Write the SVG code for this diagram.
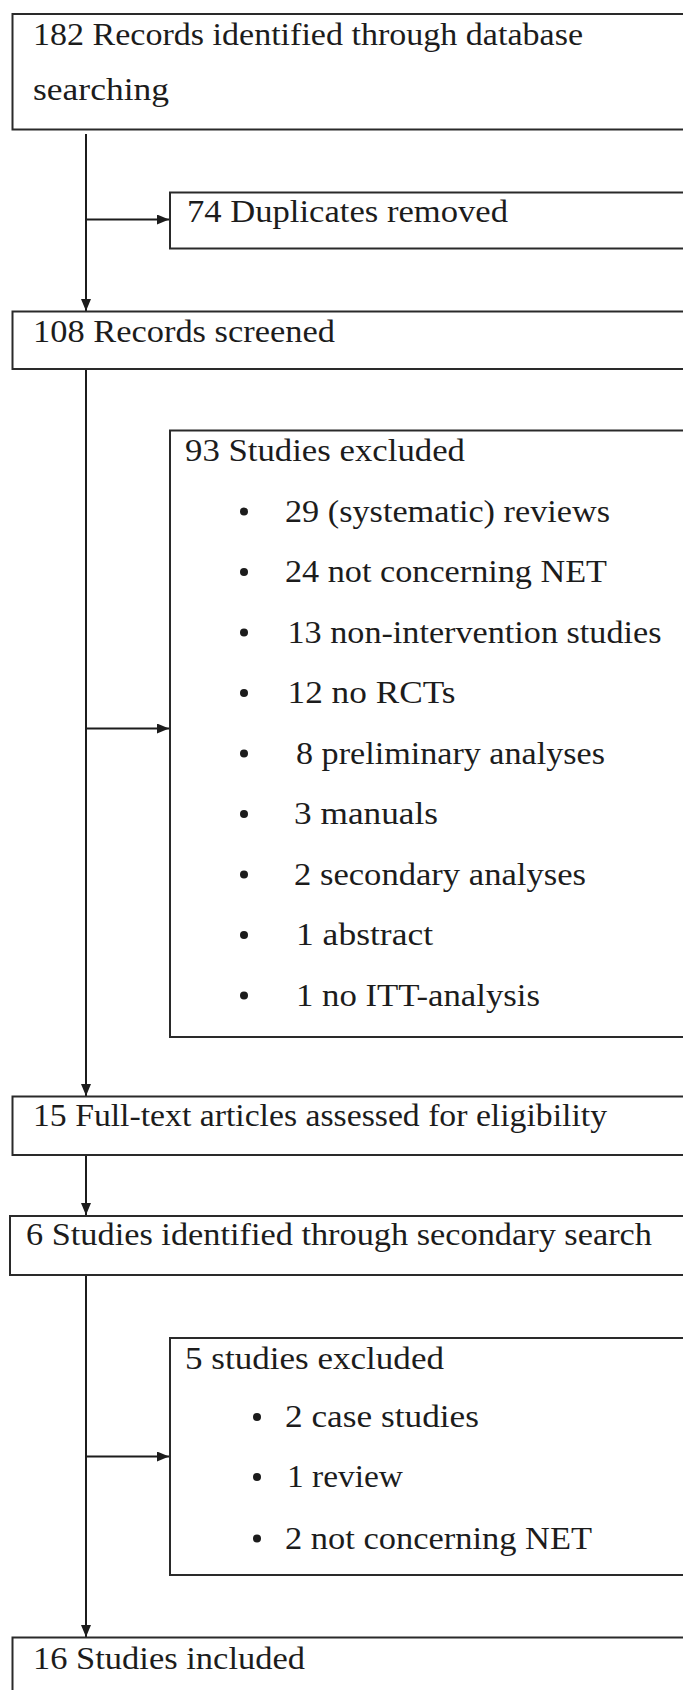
<svg xmlns="http://www.w3.org/2000/svg" width="683" height="1690" viewBox="0 0 683 1690">
<style>
.box{fill:#ffffff;stroke:#2a2a2a;stroke-width:2}
.t{font-family:"Liberation Serif","Times New Roman",Times,serif;font-size:31px;fill:#1c1c1c}
.c{stroke:#1c1c1c;stroke-width:2;fill:none}
.b{fill:#1c1c1c}
</style>
<defs>
<marker id="ah" viewBox="0 0 12 10" refX="12" refY="5" markerWidth="12" markerHeight="10" markerUnits="userSpaceOnUse" orient="auto">
<path d="M0,0 L12,5 L0,10 Z" fill="#1c1c1c"/>
</marker>
</defs>
<rect width="683" height="1690" fill="#ffffff"/>
<g id="connectors">
<line class="c" x1="86" y1="134" x2="86" y2="311" marker-end="url(#ah)"/>
<line class="c" x1="86" y1="219.5" x2="169" y2="219.5" marker-end="url(#ah)"/>
<line class="c" x1="86" y1="370" x2="86" y2="1096" marker-end="url(#ah)"/>
<line class="c" x1="86" y1="728.5" x2="169" y2="728.5" marker-end="url(#ah)"/>
<line class="c" x1="86" y1="1156" x2="86" y2="1215" marker-end="url(#ah)"/>
<line class="c" x1="86" y1="1276" x2="86" y2="1637" marker-end="url(#ah)"/>
<line class="c" x1="86" y1="1456.5" x2="169" y2="1456.5" marker-end="url(#ah)"/>
</g>
<g id="n1">
<rect class="box" x="12.5" y="14" width="700" height="115.5"/>
<text class="t" x="33" y="44.5" textLength="550" lengthAdjust="spacingAndGlyphs">182 Records identified through database</text>
<text class="t" x="33" y="100" textLength="136" lengthAdjust="spacingAndGlyphs">searching</text>
</g>
<g id="n2">
<rect class="box" x="170" y="192.5" width="540" height="56"/>
<text class="t" x="187" y="221.5" textLength="321" lengthAdjust="spacingAndGlyphs">74 Duplicates removed</text>
</g>
<g id="n3">
<rect class="box" x="12.5" y="311.5" width="700" height="57.5"/>
<text class="t" x="33" y="341.5" textLength="302" lengthAdjust="spacingAndGlyphs">108 Records screened</text>
</g>
<g id="n4">
<rect class="box" x="170" y="430.5" width="540" height="606.5"/>
<text class="t" x="185" y="461" textLength="280" lengthAdjust="spacingAndGlyphs">93 Studies excluded</text>
<circle class="b" cx="244" cy="511.5" r="4"/>
<text class="t" x="285" y="521.5" textLength="325" lengthAdjust="spacingAndGlyphs">29 (systematic) reviews</text>
<circle class="b" cx="244" cy="572" r="4"/>
<text class="t" x="285" y="582" textLength="322" lengthAdjust="spacingAndGlyphs">24 not concerning NET</text>
<circle class="b" cx="244" cy="632.5" r="4"/>
<text class="t" x="287.5" y="642.5" textLength="374" lengthAdjust="spacingAndGlyphs">13 non-intervention studies</text>
<circle class="b" cx="244" cy="693" r="4"/>
<text class="t" x="287.5" y="703" textLength="168" lengthAdjust="spacingAndGlyphs">12 no RCTs</text>
<circle class="b" cx="244" cy="753.5" r="4"/>
<text class="t" x="296" y="763.5" textLength="309" lengthAdjust="spacingAndGlyphs">8 preliminary analyses</text>
<circle class="b" cx="244" cy="814" r="4"/>
<text class="t" x="294" y="824" textLength="144" lengthAdjust="spacingAndGlyphs">3 manuals</text>
<circle class="b" cx="244" cy="874.5" r="4"/>
<text class="t" x="294" y="884.5" textLength="292" lengthAdjust="spacingAndGlyphs">2 secondary analyses</text>
<circle class="b" cx="244" cy="935" r="4"/>
<text class="t" x="296" y="945" textLength="137" lengthAdjust="spacingAndGlyphs">1 abstract</text>
<circle class="b" cx="244" cy="995.5" r="4"/>
<text class="t" x="296" y="1005.5" textLength="244" lengthAdjust="spacingAndGlyphs">1 no ITT-analysis</text>
</g>
<g id="n5">
<rect class="box" x="12.5" y="1096.5" width="700" height="58.5"/>
<text class="t" x="33" y="1126" textLength="574" lengthAdjust="spacingAndGlyphs">15 Full-text articles assessed for eligibility</text>
</g>
<g id="n6">
<rect class="box" x="10" y="1216" width="700" height="59"/>
<text class="t" x="26" y="1245" textLength="626" lengthAdjust="spacingAndGlyphs">6 Studies identified through secondary search</text>
</g>
<g id="n7">
<rect class="box" x="170" y="1338" width="540" height="237"/>
<text class="t" x="185" y="1368.5" textLength="259" lengthAdjust="spacingAndGlyphs">5 studies excluded</text>
<circle class="b" cx="257" cy="1417" r="4"/>
<text class="t" x="285" y="1427" textLength="194" lengthAdjust="spacingAndGlyphs">2 case studies</text>
<circle class="b" cx="257" cy="1477" r="4"/>
<text class="t" x="287" y="1487" textLength="116" lengthAdjust="spacingAndGlyphs">1 review</text>
<circle class="b" cx="257" cy="1538.5" r="4"/>
<text class="t" x="285" y="1548.5" textLength="307" lengthAdjust="spacingAndGlyphs">2 not concerning NET</text>
</g>
<g id="n8">
<rect class="box" x="12.5" y="1637.5" width="700" height="80"/>
<text class="t" x="33" y="1668.5" textLength="272" lengthAdjust="spacingAndGlyphs">16 Studies included</text>
</g>
</svg>
